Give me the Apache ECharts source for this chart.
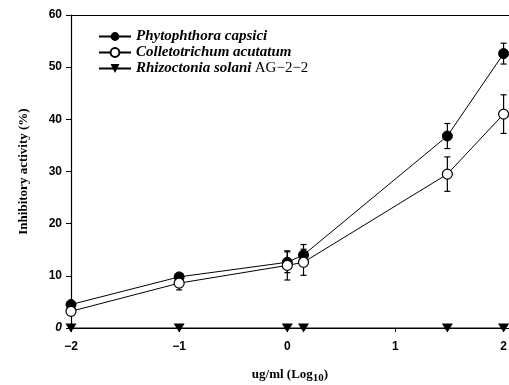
<!DOCTYPE html>
<html>
<head>
<meta charset="utf-8">
<script src="https://cdn.jsdelivr.net/npm/echarts@6/dist/echarts.min.js"></script>
<style>
  html, body { margin: 0; padding: 0; background: #fff; }
  #chart { width: 509px; height: 385px; }
</style>
</head>
<body>
<div id="chart"></div>
<script>
// concentration, log10 ug/ml
const doses = [-2, -1, 0, 0.15, 1.48, 2];
const xTicks = [-2, -1, 0, 1, 2];
const yTicks = [0, 10, 20, 30, 40, 50, 60];

const seriesNames = [
  "Phytophthora capsici",
  "Colletotrichum acutatum",
  "Rhizoctonia solani AG-2-2",
];
const phytophthora = [4.5, 9.8, 12.6, 14.0, 36.8, 52.6];
const phytophthoraErr = [0.5, 0.6, 2.0, 2.0, 2.4, 2.0];
const colletotrichum = [3.2, 8.6, 12.0, 12.6, 29.5, 41.0];
const colletotrichumErr = [0.5, 1.3, 2.8, 2.5, 3.3, 3.7];
const rhizoctonia = [0, 0, 0, 0, 0, 0];

const pairs = (ys) => doses.map((x, i) => [x, ys[i]]);
const errData = (ys, errs) => doses.map((x, i) => [x, ys[i] - errs[i], ys[i] + errs[i]]);

function errorBars(params, api) {
  const x = api.value(0);
  const lo = api.coord([x, api.value(1)]);
  const hi = api.coord([x, api.value(2)]);
  const w = 3;
  const style = { stroke: "#000", lineWidth: 1.2 };
  return {
    type: "group",
    children: [
      { type: "line", shape: { x1: lo[0], y1: lo[1], x2: hi[0], y2: hi[1] }, style },
      { type: "line", shape: { x1: lo[0] - w, y1: lo[1], x2: lo[0] + w, y2: lo[1] }, style },
      { type: "line", shape: { x1: hi[0] - w, y1: hi[1], x2: hi[0] + w, y2: hi[1] }, style },
    ],
  };
}

const chart = echarts.init(document.getElementById("chart"));
const tickFont = { fontFamily: "Liberation Sans", fontWeight: "bold", fontSize: 12, color: "#000" };

chart.setOption({
  animation: false,
  grid: { left: 71, right: 0, top: 15, bottom: 57, outerBoundsMode: "none" },
  legend: {
    orient: "vertical",
    left: 93,
    top: 24,
    itemWidth: 32,
    itemHeight: 11,
    itemGap: 1,
    data: seriesNames,
    formatter: (name) =>
      name === seriesNames[2] ? "{i|Rhizoctonia solani} {n|AG−2−2}" : "{i|" + name + "}",
    textStyle: {
      rich: {
        i: { fontFamily: "Liberation Serif", fontStyle: "italic", fontWeight: "bold", fontSize: 15, color: "#000" },
        n: { fontFamily: "Liberation Serif", fontSize: 15, color: "#000" },
      },
    },
  },
  xAxis: [
    {
      type: "value",
      min: -2,
      max: 2.05,
      interval: 1,
      splitLine: { show: false },
      axisLine: { onZero: false, lineStyle: { color: "#000", width: 1.2 } },
      axisTick: { customValues: xTicks, length: 4, lineStyle: { color: "#000" } },
      axisLabel: { customValues: xTicks, margin: 13, ...tickFont,
        formatter: (v) => (v < 0 ? "−" + Math.abs(v) : String(v)) },
      name: "{a|ug/ml (Log}{s|10}{a|)}",
      nameLocation: "middle",
      nameGap: 37,
      nameTextStyle: {
        rich: {
          a: { fontFamily: "Liberation Serif", fontWeight: "bold", fontSize: 13, color: "#000" },
          s: { fontFamily: "Liberation Serif", fontWeight: "bold", fontSize: 11, color: "#000", padding: [8, 0, 0, 0] },
        },
      },
    },
    {
      type: "value",
      position: "top",
      min: -2,
      max: 2.05,
      axisLine: { show: true, onZero: false, lineStyle: { color: "#000", width: 1 } },
      axisTick: { show: false },
      axisLabel: { show: false },
      splitLine: { show: false },
    },
  ],
  yAxis: {
    type: "value",
    min: 0,
    max: 60,
    interval: 10,
    splitLine: { show: false },
    axisLine: { show: true, onZero: false, lineStyle: { color: "#000", width: 1.2 } },
    axisTick: { show: true, length: 5, lineStyle: { color: "#000" } },
    axisLabel: {
      margin: 9,
      ...tickFont,
      formatter: (v) => (v === 0 ? "{z|0}" : String(v)),
      rich: { z: { fontFamily: "Liberation Sans", fontStyle: "italic", fontWeight: "bold", fontSize: 12, color: "#000" } },
    },
    name: "Inhibitory activity (%)",
    nameLocation: "middle",
    nameGap: 41,
    nameTextStyle: { fontFamily: "Liberation Serif", fontWeight: "bold", fontSize: 13, color: "#000" },
  },
  series: [
    {
      type: "custom",
      renderItem: errorBars,
      data: errData(colletotrichum, colletotrichumErr),
      z: 1,
      silent: true,
    },
    {
      type: "custom",
      renderItem: errorBars,
      data: errData(phytophthora, phytophthoraErr),
      z: 1,
      silent: true,
    },
    {
      name: seriesNames[0],
      type: "line",
      data: pairs(phytophthora),
      symbol: "circle",
      symbolSize: 10,
      itemStyle: { color: "#000", borderColor: "#000" },
      lineStyle: { color: "#000", width: 1 },
      z: 3,
    },
    {
      name: seriesNames[1],
      type: "line",
      data: pairs(colletotrichum),
      symbol: "circle",
      symbolSize: 10,
      itemStyle: { color: "#fff", borderColor: "#000", borderWidth: 1.2 },
      lineStyle: { color: "#000", width: 1 },
      z: 4,
    },
    {
      name: seriesNames[2],
      type: "line",
      data: pairs(rhizoctonia),
      symbol: "triangle",
      symbolRotate: 180,
      symbolSize: [11, 9],
      itemStyle: { color: "#000" },
      lineStyle: { color: "#000", width: 1 },
      z: 5,
    },
  ],
});
</script>
</body>
</html>
